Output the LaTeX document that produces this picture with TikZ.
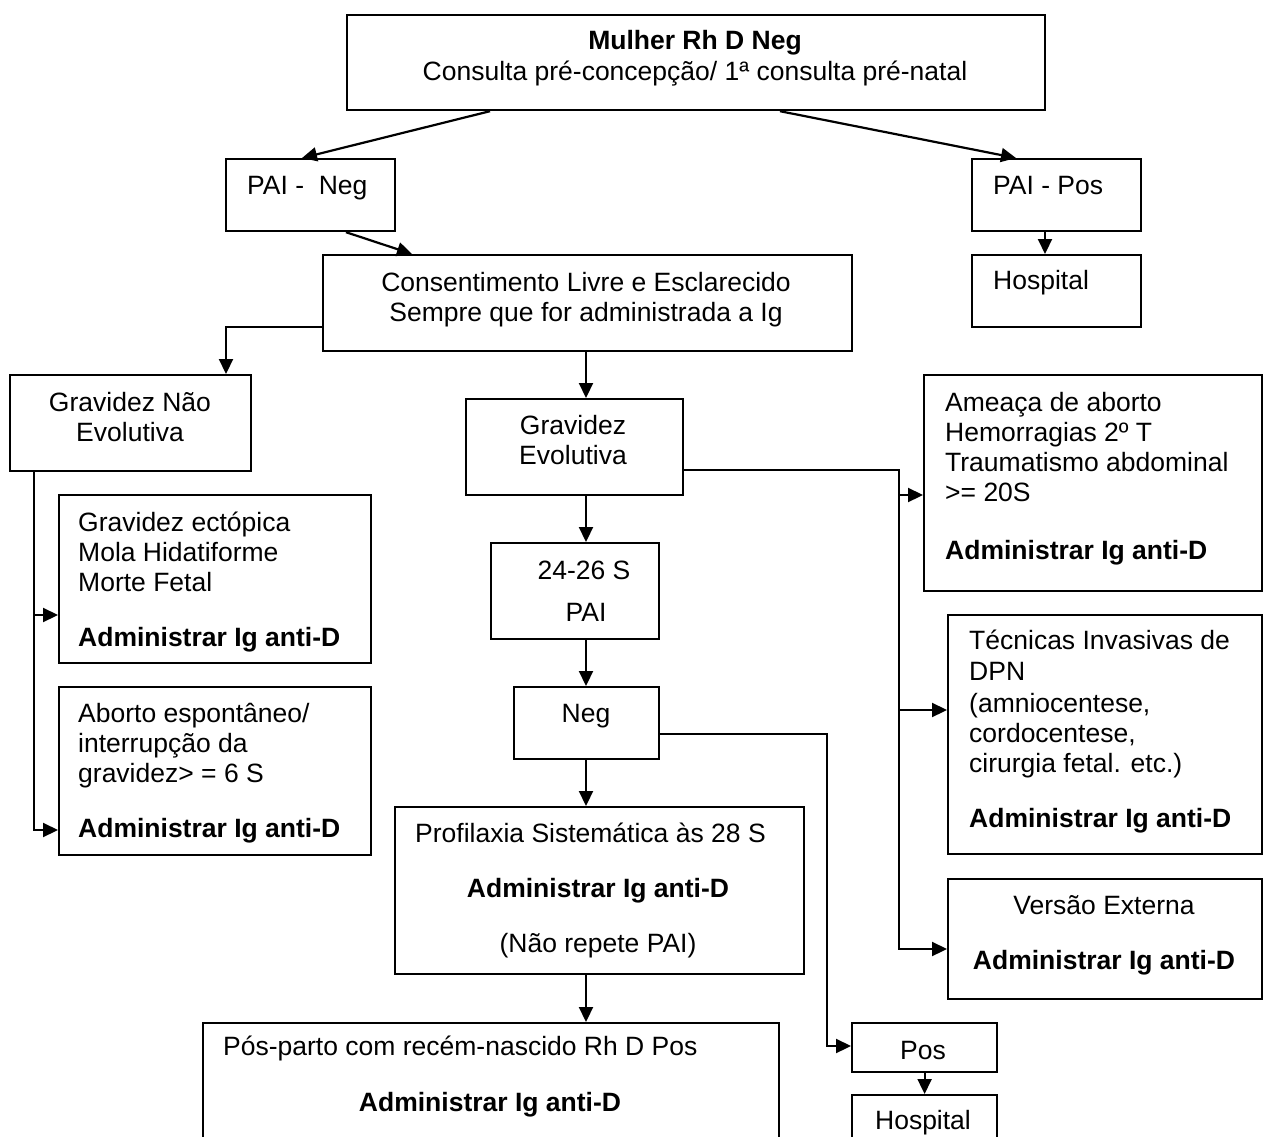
\documentclass[tikz,border=0pt]{standalone}
\usepackage{fontspec}
\setmainfont{Liberation Sans}
\usetikzlibrary{arrows.meta}
\begin{document}
\begin{tikzpicture}[x=1pt,y=-1pt,
  boxst/.style={draw, line width=2.2pt, inner sep=0pt, anchor=north west},
  txt/.style={inner sep=0pt, font=\fontsize{26.5}{30}\selectfont},
  tl/.style={txt, anchor=base west},
  tc/.style={txt, anchor=base},
  line/.style={line width=2.2pt},
  arr/.style={line width=2.2pt, -{Triangle[length=15pt,width=14pt]}}]
\useasboundingbox (0,0) rectangle (1264,1137);
\clip (0,0) rectangle (1264,1137);
\fill[white] (0,0) rectangle (1264,1137);
% boxes
\node[boxst, minimum width=698pt, minimum height=95pt] (top) at (346,14) {};
\node[boxst, minimum width=169pt, minimum height=72pt] (pneg) at (225,158) {};
\node[boxst, minimum width=169pt, minimum height=72pt] (ppos) at (971,158) {};
\node[boxst, minimum width=169pt, minimum height=72pt] (hosp1) at (971,254) {};
\node[boxst, minimum width=529pt, minimum height=96pt] (cons) at (322,254) {};
\node[boxst, minimum width=241pt, minimum height=96pt] (gne) at (9,374) {};
\node[boxst, minimum width=217pt, minimum height=96pt] (ge) at (465,398) {};
\node[boxst, minimum width=312pt, minimum height=168pt] (boxA) at (58,494) {};
\node[boxst, minimum width=312pt, minimum height=168pt] (boxB) at (58,686) {};
\node[boxst, minimum width=338pt, minimum height=216pt] (ameaca) at (923,374) {};
\node[boxst, minimum width=168pt, minimum height=96pt] (p2426) at (490,542) {};
\node[boxst, minimum width=145pt, minimum height=72pt] (neg) at (513,686) {};
\node[boxst, minimum width=314pt, minimum height=239pt] (tec) at (947,614) {};
\node[boxst, minimum width=409pt, minimum height=167pt] (prof) at (394,806) {};
\node[boxst, minimum width=314pt, minimum height=120pt] (versao) at (947,878) {};
\node[boxst, minimum width=145pt, minimum height=49pt] (pos) at (851,1022) {};
\node[boxst, minimum width=145pt, minimum height=70pt] (hosp2) at (851,1094) {};
\node[boxst, minimum width=576pt, minimum height=140pt] (posparto) at (202,1022) {};
% texts
\node[tc] (t1) at (695,50) {\bfseries Mulher Rh D Neg};
\node[tc] (t2) at (695,81) {Consulta pré-concepção/ 1ª consulta pré-natal};
\node[tl] (t3) at (247,194) {PAI -\ \ Neg};
\node[tl] (t4) at (993,194) {PAI - Pos};
\node[tl] (t5) at (993,289) {Hospital};
\node[tc] (t6) at (586,291) {Consentimento Livre e Esclarecido};
\node[tc] (t7) at (586,321) {Sempre que for administrada a Ig};
\node[tc] (t8) at (130,411) {Gravidez Não};
\node[tc] (t9) at (130,441) {Evolutiva};
\node[tc] (t10) at (573,434) {Gravidez};
\node[tc] (t11) at (573,464) {Evolutiva};
\node[tl] (t12) at (945,411) {Ameaça de aborto};
\node[tl] (t13) at (945,441) {Hemorragias 2º T};
\node[tl] (t14) at (945,471) {Traumatismo abdominal};
\node[tl] (t15) at (945,501) {>= 20S};
\node[tl] (t16) at (945,559) {\bfseries Administrar Ig anti-D};
\node[tl] (t17) at (78,531) {Gravidez ectópica};
\node[tl] (t18) at (78,561) {Mola Hidatiforme};
\node[tl] (t19) at (78,591) {Morte Fetal};
\node[tl] (t20) at (78,646) {\bfseries Administrar Ig anti-D};
\node[tc] (t21) at (584,579) {24-26 S};
\node[tc] (t22) at (586,621) {PAI};
\node[tl] (t23) at (969,649) {Técnicas Invasivas de};
\node[tl] (t24) at (969,680) {DPN};
\node[tl] (t25) at (969,712) {(amniocentese,};
\node[tl] (t26) at (969,742) {cordocentese,};
\node[tl] (t27) at (969,772) {cirurgia fetal. etc.)};
\node[tl] (t28) at (969,827) {\bfseries Administrar Ig anti-D};
\node[tl] (t29) at (78,722) {Aborto espontâneo/};
\node[tl] (t30) at (78,752) {interrupção da};
\node[tl] (t31) at (78,782) {gravidez> = 6 S};
\node[tl] (t32) at (78,837) {\bfseries Administrar Ig anti-D};
\node[tc] (t33) at (586,722) {Neg};
\node[tl] (t34) at (415,842) {Profilaxia Sistemática às 28 S};
\node[tc] (t35) at (598,897) {\bfseries Administrar Ig anti-D};
\node[tc] (t36) at (598,952) {(Não repete PAI)};
\node[tc] (t37) at (1104,914) {Versão Externa};
\node[tc] (t38) at (1104,969) {\bfseries Administrar Ig anti-D};
\node[tl] (t39) at (223,1055) {Pós-parto com recém-nascido Rh D Pos};
\node[tc] (t40) at (490,1111) {\bfseries Administrar Ig anti-D};
\node[tc] (t41) at (923,1059) {Pos};
\node[tc] (t42) at (923,1129) {Hospital};
% connectors
\draw[arr] ([xshift=144pt]top.south west) -- ([xshift=77pt]pneg.north west);
\draw[arr] ([xshift=434pt]top.south west) -- ([xshift=45pt]ppos.north west);
\draw[arr] ([xshift=74pt]ppos.south west) -- ([xshift=74pt]hosp1.north west);
\draw[arr] ([xshift=121pt]pneg.south west) -- ([xshift=90pt]cons.north west);
\draw[arr] ([yshift=-73pt]cons.north west) -| ([xshift=217pt]gne.north west);
\draw[arr] ([xshift=264pt]cons.south west) -- ([xshift=121pt]ge.north west);
\draw[arr] ([xshift=121pt]ge.south west) -- ([xshift=96pt]p2426.north west);
\draw[arr] ([xshift=96pt]p2426.south west) -- ([xshift=73pt]neg.north west);
\draw[arr] ([xshift=73pt]neg.south west) -- ([xshift=192pt]prof.north west);
\draw[arr] ([xshift=192pt]prof.south west) -- ([xshift=384pt]posparto.north west);
\draw[arr] (pos.south) -- (hosp2.north);
% left trunk
\coordinate (gs) at ([xshift=25pt]gne.south west);
\coordinate (aW) at ([yshift=-121pt]boxA.north west);
\coordinate (bW) at ([yshift=-144pt]boxB.north west);
\draw[arr] (gs) |- (bW);
\draw[arr] (gs |- aW) -- (aW);
% right trunk
\coordinate (geE) at ([yshift=-72pt]ge.north east);
\coordinate (c2) at (899,0);
\coordinate (amW) at ([yshift=-121pt]ameaca.north west);
\coordinate (tW) at ([yshift=-96pt]tec.north west);
\coordinate (vW) at ([yshift=-71pt]versao.north west);
\draw[arr] (geE) -| (c2 |- vW) -- (vW);
\draw[arr] (c2 |- amW) -- (amW);
\draw[arr] (c2 |- tW) -- (tW);
% neg to pos
\coordinate (negE) at ([yshift=-48pt]neg.north east);
\coordinate (posW) at ([yshift=-24pt]pos.north west);
\coordinate (c1) at (827,0);
\draw[arr] (negE) -- (negE -| c1) -- (c1 |- posW) -- (posW);
\end{tikzpicture}
\end{document}
